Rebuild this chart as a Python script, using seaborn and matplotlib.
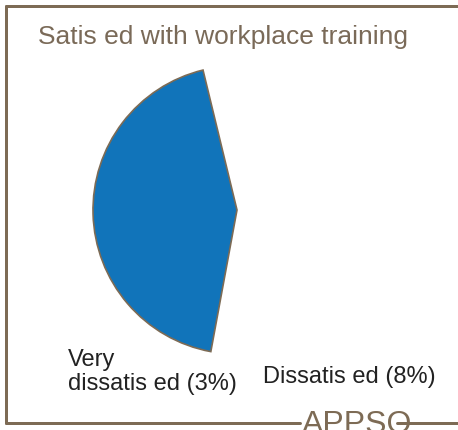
import matplotlib
matplotlib.use("Agg")
import matplotlib.pyplot as plt
import matplotlib.transforms as mtransforms
import seaborn as sns
from matplotlib.lines import Line2D

sns.set_style("white")
plt.rcParams['font.family'] = ['Liberation Sans', 'DejaVu Sans']

# data
categories = ["Satisfied", "Very dissatisfied", "Dissatisfied", "Other"]
values = [43.3, 3, 8, 45.7]
labels = ["", "Very\ndissatis ed (3%)", "Dissatis ed (8%)", ""]
shown = [True, False, False, False]

title = "Satis ed with workplace training"
brand = "APPSO"

blue = "#1174BA"
brown = "#7D6B55"
W, H = 458, 430

fig = plt.figure(figsize=(W / 100, H / 100), dpi=100)
ax = fig.add_axes([0, 0, 1, 1])

wedges, texts = ax.pie(values, labels=labels, startangle=103.65, counterclock=True,
                       colors=[blue, "none", "none", "none"], labeldistance=1.1,
                       wedgeprops=dict(edgecolor=brown, linewidth=1.2),
                       textprops=dict(fontsize=17, color="#222222"))
for w, s in zip(wedges, shown):
    if not s:
        w.set_visible(False)

# nudge the two outer labels a little, like the original label layout
nudges = [(0, 0), (14, -4), (-14, -14), (0, 0)]
for t, (dx, dy) in zip(texts, nudges):
    t.set_multialignment("left")
    t.set_linespacing(1.1)
    t.set_transform(mtransforms.offset_copy(ax.transData, fig=fig, x=dx, y=dy, units="dots"))

# pie centre at (237, 210) px, radius 144 px
r_px = 144.0
ax.set_xlim(-237 / r_px, (W - 237) / r_px)
ax.set_ylim(-(H - 210) / r_px, 210 / r_px)
ax.set_aspect("equal")
ax.axis("off")

# frame
lw = 3 * 72 / 100
fig.add_artist(Line2D([6 / W, 6 / W], [1 - 6 / H, 1 - 423 / H], color=brown, lw=lw))
fig.add_artist(Line2D([6 / W, 1], [1 - 6 / H, 1 - 6 / H], color=brown, lw=lw))
fig.add_artist(Line2D([6 / W, 300 / W], [1 - 423 / H, 1 - 423 / H], color=brown, lw=lw))
fig.add_artist(Line2D([397 / W, 1], [1 - 423 / H, 1 - 423 / H], color=brown, lw=lw))

fig.text(38 / W, 1 - 44 / H, title, fontsize=19, color="#7A6A58", va="baseline")
fig.text(302 / W, 1 - 433 / H, brand, fontsize=23, color=brown, va="baseline")

fig.savefig("out.png", dpi=100)
